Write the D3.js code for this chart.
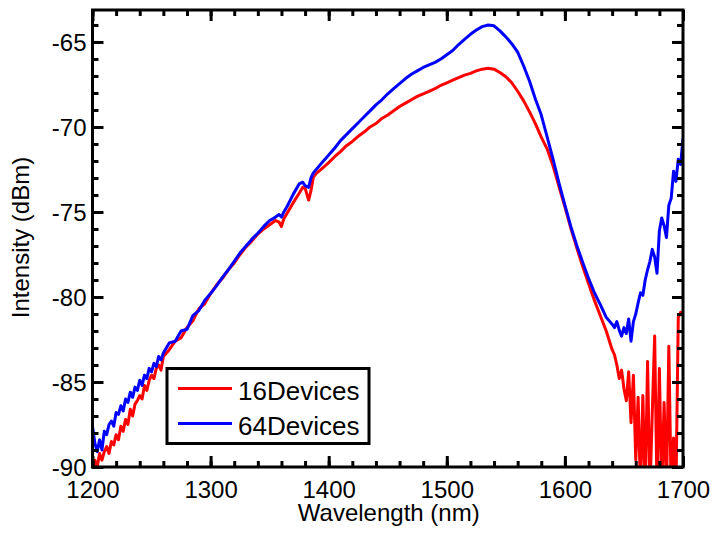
<!DOCTYPE html>
<html>
<head>
<meta charset="utf-8">
<script src="https://cdnjs.cloudflare.com/ajax/libs/d3/7.8.5/d3.min.js"></script>
<style>
    body { margin: 0; background: #fff; }
    text { font-family: Arial, "Liberation Sans", sans-serif; fill: #000; }
</style>
</head>
<body>
<div id="chart"></div>
<script>

// wavelength samples (nm)
var wavelength = [
    1200, 1202, 1204, 1206, 1208, 1210, 1212, 1214, 1216, 1218,
    1220, 1222, 1224, 1226, 1228, 1230, 1232, 1234, 1236, 1238,
    1240, 1242, 1244, 1246, 1248, 1250, 1252, 1254, 1256, 1258, 1260,
    1265, 1270, 1275, 1280, 1285, 1290, 1295, 1300, 1305, 1310,
    1315, 1320, 1325, 1330, 1335, 1340, 1345, 1350, 1355, 1358,
    1360, 1362, 1365, 1370, 1375, 1378, 1380, 1383, 1385, 1387,
    1390, 1395, 1400, 1405, 1410, 1415, 1420, 1425, 1430, 1435,
    1440, 1445, 1450, 1455, 1460, 1465, 1470, 1475, 1480, 1485,
    1490, 1495, 1500, 1505, 1510, 1515, 1520, 1525, 1530, 1535,
    1540, 1545, 1550, 1555, 1560, 1565, 1570, 1575, 1580, 1585,
    1590, 1595, 1600, 1605, 1610, 1615, 1620, 1625, 1630, 1635, 1640,
    1642, 1644, 1646, 1648, 1650, 1652, 1654, 1656, 1658, 1660,
    1662, 1664, 1666, 1668, 1670, 1672, 1674, 1676, 1678, 1680,
    1682, 1684, 1686, 1688, 1690, 1692, 1694, 1696, 1698, 1700
];

// 16Devices intensity (dBm)
var devices16 = [
    -90.2, -89.6, -90.0, -89.2, -89.6, -89.1, -88.8, -89.2, -88.5, -88.7,
    -88.1, -88.4, -87.6, -87.9, -87.2, -87.5, -86.6, -87.0, -86.3, -86.1,
    -85.8, -86.0, -85.2, -85.5, -84.9, -84.6, -84.8, -84.2, -84.0, -84.3, -83.5,
    -83.1, -82.6, -82.4, -81.8, -81.4, -80.7, -80.4, -79.8, -79.3, -78.9,
    -78.4, -78.0, -77.5, -77.05, -76.7, -76.3, -76.0, -75.75, -75.5, -75.6,
    -75.85, -75.4, -75.05, -74.45, -73.9, -73.55, -73.6, -74.3, -73.75, -72.95,
    -72.7, -72.4, -72.1, -71.75, -71.45, -71.1, -70.85, -70.55, -70.3, -70.0,
    -69.8, -69.5, -69.3, -69.05, -68.8, -68.6, -68.4, -68.2, -68.05, -67.9,
    -67.75, -67.55, -67.4, -67.25, -67.1, -66.95, -66.85, -66.7, -66.6, -66.55,
    -66.6, -66.8, -67.05, -67.4, -67.9, -68.45, -69.1, -69.8, -70.6, -71.3,
    -72.3, -73.5, -74.7, -75.95, -77.1, -78.2, -79.2, -80.2, -81.1, -82.0, -83.1,
    -83.4, -84.0, -84.8, -84.3, -85.4, -86.1, -84.4, -87.4, -84.6, -89.6,
    -85.9, -91.5, -85.8, -91.5, -83.8, -91.5, -86.8, -82.3, -91.5, -84.2,
    -91.5, -86.2, -91.5, -82.9, -91.5, -88.3, -91.5, -81.2, -80.9, -81.0
];

// 64Devices intensity (dBm)
var devices64 = [
    -87.6, -88.6, -89.1, -88.4, -89.0, -87.9, -88.1, -87.5, -87.3, -87.6,
    -86.8, -86.9, -86.4, -86.7, -86.0, -86.2, -85.6, -85.9, -85.3, -85.5,
    -84.9, -85.2, -84.6, -84.8, -84.2, -84.4, -83.9, -84.1, -83.5, -83.7, -83.3,
    -82.7, -82.6, -82.0, -81.9, -81.1, -80.8, -80.2, -79.8, -79.35, -78.85,
    -78.4, -77.9, -77.4, -77.0, -76.6, -76.25, -75.85, -75.5, -75.3, -75.15,
    -75.3, -75.0, -74.65, -73.95, -73.35, -73.25, -73.45, -73.55, -73.0, -72.7,
    -72.45, -72.05, -71.65, -71.25, -70.8, -70.45, -70.1, -69.75, -69.4, -69.05,
    -68.7, -68.4, -68.05, -67.75, -67.45, -67.15, -66.9, -66.7, -66.5, -66.35,
    -66.2, -66.0, -65.75, -65.5, -65.15, -64.85, -64.55, -64.3, -64.1, -64.0,
    -64.05, -64.35, -64.7, -65.1, -65.6, -66.4, -67.3, -68.35, -69.3, -70.6,
    -71.9, -73.3, -74.6, -75.85, -76.95, -77.95, -78.9, -79.75, -80.45, -81.2, -81.6,
    -81.8, -81.45, -81.95, -82.3, -81.8, -82.15, -81.3, -82.6, -81.45, -81.0,
    -80.35, -79.75, -79.9, -79.0, -78.4, -77.9, -77.2, -77.65, -78.6, -76.1,
    -75.35, -75.8, -76.5, -74.6, -74.2, -72.6, -73.2, -71.9, -72.2, -70.7
];

var seriesNames = ["16Devices", "64Devices"];
var seriesColors = ["#ff0000", "#0000ff"];

var xMajorTicks = [1200, 1300, 1400, 1500, 1600, 1700];
var yMajorTicks = [-90, -85, -80, -75, -70, -65];

// layout
var margin = {top: 10, right: 31, bottom: 68, left: 92.5};
var totalWidth = 714, totalHeight = 535;
var width = totalWidth - margin.left - margin.right,
    height = totalHeight - margin.top - margin.bottom;

var svg = d3.select("#chart").append("svg")
    .attr("width", totalWidth)
    .attr("height", totalHeight)
    .append("g")
    .attr("transform", "translate(" + margin.left + "," + margin.top + ")");

var x = d3.scaleLinear().domain([1200, 1700]).range([0, width]);
var y = d3.scaleLinear().domain([-90, -63.12]).range([height, 0]);

// clip the traces to the plot box
svg.append("clipPath").attr("id", "plot-clip")
    .append("rect")
    .attr("width", width)
    .attr("height", height);

var line = d3.line()
    .x(function(d) { return x(d[0]); })
    .y(function(d) { return y(d[1]); });

var traces = [devices16, devices64].map(function(vals) {
    return wavelength.map(function(w, i) { return [w, vals[i]]; });
});

svg.selectAll(".trace")
    .data(traces)
    .enter()
    .append("path")
    .attr("class", "trace")
    .attr("clip-path", "url(#plot-clip)")
    .attr("d", line)
    .style("fill", "none")
    .style("stroke", function(d, i) { return seriesColors[i]; })
    .style("stroke-width", 3)
    .style("stroke-linejoin", "round");

// minor ticks every 20 nm / 1 dB
var xMinor = d3.range(1200, 1701, 20);
var yMinor = d3.range(-90, -63, 1);

// plain labels: "1200", "-65" (hyphen, no thousands comma)
var plainFormat = function(d) { return String(d); };

function tickAxis(axisFn, scale, values, size, labels) {
    var a = axisFn(scale).tickValues(values).tickSizeInner(-size).tickSizeOuter(0);
    a.tickFormat(labels ? plainFormat : "");
    return a;
}

function drawAxis(axisFn, transform, scale, major, minor, labels) {
    var gMinor = svg.append("g").attr("transform", transform)
        .call(tickAxis(axisFn, scale, minor, 6, false));
    var gMajor = svg.append("g").attr("transform", transform)
        .call(tickAxis(axisFn, scale, major, 11, labels));
    [gMinor, gMajor].forEach(function(g) {
        g.select(".domain").remove();
        g.selectAll("line").style("stroke", "#000").style("stroke-width", 3);
    });
    return gMajor;
}

var xBottom = drawAxis(d3.axisBottom, "translate(0," + height + ")", x, xMajorTicks, xMinor, true);
drawAxis(d3.axisTop, "translate(0,0)", x, xMajorTicks, xMinor, false);
var yLeft = drawAxis(d3.axisLeft, "translate(0,0)", y, yMajorTicks, yMinor, true);
drawAxis(d3.axisRight, "translate(" + width + ",0)", y, yMajorTicks, yMinor, false);

xBottom.selectAll("text")
    .attr("y", 31)
    .attr("dy", 0)
    .style("font-size", "24px")
    .style("font-family", "Arial, 'Liberation Sans', sans-serif");

yLeft.selectAll("text")
    .attr("x", -6)
    .attr("dy", "0.36em")
    .style("font-size", "24px")
    .style("font-family", "Arial, 'Liberation Sans', sans-serif");

// frame
svg.append("rect")
    .attr("width", width)
    .attr("height", height)
    .style("fill", "none")
    .style("stroke", "#000")
    .style("stroke-width", 3);

// axis titles
svg.append("text")
    .attr("x", width / 2 + 1)
    .attr("y", height + 54)
    .attr("text-anchor", "middle")
    .style("font-size", "24px")
    .text("Wavelength (nm)");

svg.append("text")
    .attr("transform", "translate(" + (29 - margin.left) + "," + (height / 2 - 1) + ") rotate(-90)")
    .attr("text-anchor", "middle")
    .style("font-size", "24px")
    .text("Intensity (dBm)");

// legend
var legend = svg.append("g")
    .attr("transform", "translate(" + (167 - margin.left) + "," + (368.5 - margin.top) + ")");

legend.append("rect")
    .attr("width", 202)
    .attr("height", 75)
    .style("fill", "#fff")
    .style("stroke", "#000")
    .style("stroke-width", 3);

seriesNames.forEach(function(name, i) {
    legend.append("line")
        .attr("x1", 11).attr("x2", 65)
        .attr("y1", 20 + i * 35).attr("y2", 20 + i * 35)
        .style("stroke", seriesColors[i])
        .style("stroke-width", 3);
    legend.append("text")
        .attr("x", 71)
        .attr("y", 31.5 + i * 35)
        .style("font-size", "26px")
        .text(name);
});

</script>
</body>
</html>
